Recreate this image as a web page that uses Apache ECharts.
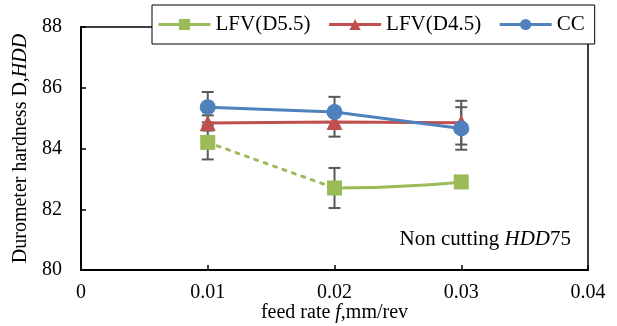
<!DOCTYPE html>
<html><head><meta charset="utf-8">
<script src="https://cdn.jsdelivr.net/npm/echarts@6/dist/echarts.min.js"></script>
<style>html,body{margin:0;padding:0;background:#fff}#c{width:617px;height:326px}</style>
</head><body><div id="c"></div>
<script>
var feedRates = [0.01, 0.02, 0.03];
var lfvD55 = [84.2, 82.7, 82.9];
var lfvD55Err = [0.56, 0.66, 0.1];
var lfvD45 = [84.84, 84.87, 84.85];
var lfvD45Err = [0.25, 0.48, 0.72];
var cc = [85.36, 85.2, 84.66];
var ccErr = [0.5, 0.5, 0.7];
var xTicks = [0, 0.01, 0.02, 0.03, 0.04];
var yTicks = [80, 82, 84, 86, 88];

var GREEN = '#9BBB59', RED = '#C0504D', BLUE = '#4F81BD', ERR = '#595959';
var CLEAR = 'rgba(255,255,255,0)';
var FONT = '"Liberation Serif","Times New Roman",serif';

function pts(vals) { return feedRates.map(function (x, i) { return [x, vals[i]]; }); }
function errLine(vals, e) {
  var out = [];
  feedRates.forEach(function (x, i) {
    if (i > 0) out.push('-');
    out.push([x, vals[i] - e[i]]);
    out.push([x, vals[i] + e[i]]);
  });
  return out;
}
function errSeries(name, vals, e) {
  return { name: name, type: 'line', data: errLine(vals, e), z: 3, connectNulls: false,
    symbol: 'rect', symbolSize: [12, 2], showAllSymbol: true, silent: true,
    lineStyle: { color: ERR, width: 2 }, itemStyle: { color: ERR, opacity: 1 } };
}

var chart = echarts.init(document.getElementById('c'));
chart.setOption({
  animation: false,
  textStyle: { fontFamily: FONT },
  grid: { left: 81, right: 29, top: 27, bottom: 56, outerBoundsMode: 'none',
    show: true, borderColor: '#000', borderWidth: 1.5, backgroundColor: 'transparent' },
  xAxis: {
    type: 'value', min: xTicks[0], max: xTicks[xTicks.length - 1], interval: 0.01,
    axisLine: { lineStyle: { color: '#000', width: 2 } },
    axisTick: { inside: true, length: 5, lineStyle: { color: '#000', width: 1.5 } },
    splitLine: { show: false },
    axisLabel: { color: '#000', fontSize: 20, fontFamily: FONT, margin: 13, formatter: function (v) { return String(+v.toFixed(2)); } },
    name: '{a|feed rate }{b|f}{a|,mm/rev}', nameLocation: 'middle', nameGap: 33, nameMoveOverlap: false,
    nameTextStyle: { rich: { a: { fontSize: 20, fontFamily: FONT, color: '#000' }, b: { fontSize: 20, fontFamily: FONT, fontStyle: 'italic', color: '#000' } } }
  },
  yAxis: {
    type: 'value', min: yTicks[0], max: yTicks[yTicks.length - 1], interval: 2,
    axisLine: { show: true, lineStyle: { color: '#000', width: 2 } },
    axisTick: { show: true, inside: true, length: 5, lineStyle: { color: '#000', width: 1.5 } },
    splitLine: { show: false },
    axisLabel: { color: '#000', fontSize: 20, fontFamily: FONT, margin: 19 },
    name: '{a|Durometer hardness D,}{b|HDD}', nameLocation: 'middle', nameGap: 50, nameMoveOverlap: false,
    nameTextStyle: { rich: { a: { fontSize: 20, fontFamily: FONT, color: '#000' }, b: { fontSize: 20, fontFamily: FONT, fontStyle: 'italic', color: '#000' } } }
  },
  legend: {
    left: 152, top: 5, padding: [9, 10, 9, 5],
    backgroundColor: '#fff', borderColor: '#000', borderWidth: 1,
    itemWidth: 52, itemHeight: 14, itemGap: 17,
    textStyle: { fontSize: 21, fontFamily: FONT, color: '#000' },
    data: [
      { name: 'LFV(D5.5)', itemStyle: { color: GREEN }, lineStyle: { color: GREEN, width: 3, type: 'solid', opacity: 1 } },
      { name: 'LFV(D4.5)', itemStyle: { color: RED }, lineStyle: { color: RED, width: 3 } },
      { name: 'CC', itemStyle: { color: BLUE }, lineStyle: { color: BLUE, width: 3 } }
    ]
  },
  visualMap: [
    { type: 'piecewise', show: false, dimension: 0, seriesIndex: 0,
      pieces: [{ gte: 0, lt: 0.02, color: GREEN }, { gte: 0.02, lte: 0.04, color: CLEAR }],
      outOfRange: { color: CLEAR } },
    { type: 'piecewise', show: false, dimension: 0, seriesIndex: 1,
      pieces: [{ gte: 0, lt: 0.02, color: CLEAR }, { gte: 0.02, lte: 0.04, color: GREEN }],
      outOfRange: { color: CLEAR } }
  ],
  graphic: [{
    type: 'text', right: 46, top: 229, z: 10,
    style: { rich: { a: { fontSize: 21, fontFamily: FONT, fill: '#000' }, b: { fontSize: 21, fontFamily: FONT, fontStyle: 'italic', fill: '#000' } },
      text: '{a|Non cutting }{b|HDD}{a|75}' }
  }],
  series: [
    { name: 'gDotted', type: 'line', smooth: false, showSymbol: false, z: 2, data: pts(lfvD55),
      lineStyle: { width: 3, type: [3, 7], cap: 'round' } },
    { name: 'LFV(D5.5)', type: 'line', smooth: 0.6, symbol: 'rect', symbolSize: 13, showSymbol: false, z: 2, data: pts(lfvD55),
      lineStyle: { width: 3 }, itemStyle: { color: GREEN } },
    errSeries('eG', lfvD55, lfvD55Err),
    errSeries('eR', lfvD45, lfvD45Err),
    errSeries('eB', cc, ccErr),
    { name: 'gPts', type: 'scatter', symbol: 'rect', symbolSize: 15, z: 5, data: pts(lfvD55), itemStyle: { color: GREEN, opacity: 1 } },
    { name: 'LFV(D4.5)', type: 'line', symbol: 'triangle', symbolSize: 16, showAllSymbol: true, z: 4, data: pts(lfvD45),
      lineStyle: { width: 3, color: RED }, itemStyle: { color: RED } },
    { name: 'CC', type: 'line', symbol: 'circle', symbolSize: 16, z: 4, data: pts(cc),
      lineStyle: { width: 3, color: BLUE }, itemStyle: { color: BLUE } }
  ]
});
</script></body></html>
